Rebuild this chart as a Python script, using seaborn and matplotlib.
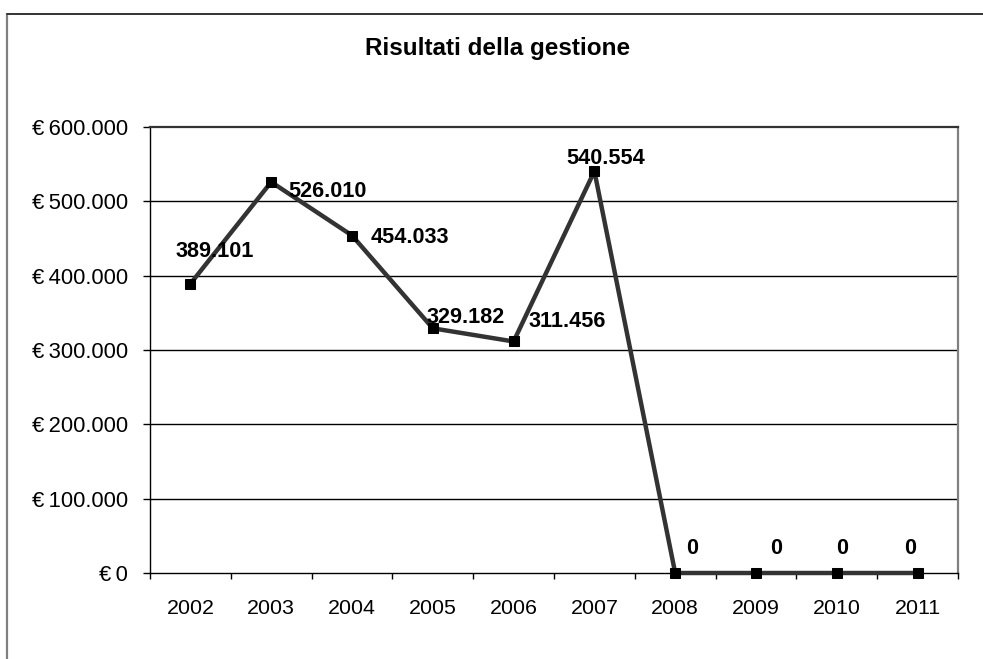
import matplotlib
matplotlib.use("Agg")
import matplotlib.pyplot as plt
from matplotlib.lines import Line2D
from matplotlib.ticker import FixedLocator, FuncFormatter
import seaborn as sns
import pandas as pd

# Annual management result (euro)
anni = ["2002", "2003", "2004", "2005", "2006", "2007", "2008", "2009", "2010", "2011"]
risultati = [389101, 526010, 454033, 329182, 311456, 540554, 0, 0, 0, 0]
etichette = ["389.101", "526.010", "454.033", "329.182", "311.456", "540.554", "0", "0", "0", "0"]
valori_asse_y = [0, 100000, 200000, 300000, 400000, 500000, 600000]

# Label offsets (pixels, from each point)
offset_etichette = [(24, 32), (56, -10), (58, -2), (33, 11), (54, 20),
                    (11, 13), (17, 24), (20, 24), (5, 24), (-7, 24)]

sns.set_theme(style="white")
plt.rcParams["font.family"] = ["Liberation Sans", "DejaVu Sans"]

df = pd.DataFrame({"anno": anni, "risultato": risultati})

W, H = 983, 659
fig = plt.figure(figsize=(W / 100, H / 100), dpi=100)
fig.patch.set_facecolor("white")

ax = fig.add_axes([150 / W, 1 - 573 / H, (958 - 150) / W, (573 - 127) / H])
ax.set_facecolor("white")

# horizontal gridlines
for v in valori_asse_y[1:-1]:
    ax.axhline(v, color="black", lw=1.0, zorder=1)

sns.lineplot(data=df, x="anno", y="risultato", ax=ax, color="#333333",
             linewidth=3.2, marker="s", markersize=7.5, markerfacecolor="black",
             markeredgecolor="black", clip_on=False, zorder=3)

ax.set_xlim(-0.5, len(anni) - 0.5)
ax.set_ylim(0, 600000)
ax.set_xlabel("")
ax.set_ylabel("")

for i, (v, txt, (dx, dy)) in enumerate(zip(risultati, etichette, offset_etichette)):
    ax.annotate(txt, (i, v), xytext=(dx, dy), textcoords="offset pixels",
                ha="center", va="center", fontsize=15.6, fontweight="bold",
                color="black", zorder=4, annotation_clip=False)

# axes frame
for side in ["left", "bottom"]:
    ax.spines[side].set_color("black")
    ax.spines[side].set_linewidth(1.0)
ax.spines["top"].set_color("#333333")
ax.spines["top"].set_linewidth(1.6)
ax.spines["right"].set_color("#808080")
ax.spines["right"].set_linewidth(1.6)

# ticks
ax.set_yticks(valori_asse_y)
ax.yaxis.set_major_formatter(FuncFormatter(
    lambda v, p: "€\u2009" + f"{int(v):,}".replace(",", ".") if v else "€\u20090"))
ax.tick_params(axis="y", which="major", direction="out", length=5, width=1,
               color="black", pad=11, labelsize=15.8, labelcolor="black", left=True)
ax.set_xticks(range(len(anni)))
ax.set_xticklabels(anni)
ax.xaxis.set_minor_locator(FixedLocator([i - 0.5 for i in range(len(anni) + 1)]))
ax.tick_params(axis="x", which="major", length=0, pad=19, labelsize=15.4,
               labelcolor="black", bottom=True)
ax.tick_params(axis="x", which="minor", direction="out", length=4, width=1,
               color="black", bottom=True)

# title
fig.text(498 / W, 1 - 48 / H, "Risultati della gestione", ha="center", va="center",
         fontsize=17.5, fontweight="bold", color="black")

# chart area border
fig.add_artist(Line2D([7 / W, 7 / W], [1 - 14 / H, -0.05], transform=fig.transFigure,
                      color="#808080", lw=1.6))
fig.add_artist(Line2D([7 / W, 1.05], [1 - 14 / H, 1 - 14 / H], transform=fig.transFigure,
                      color="#333333", lw=1.4))

fig.savefig("out.png", dpi=100, facecolor="white")
